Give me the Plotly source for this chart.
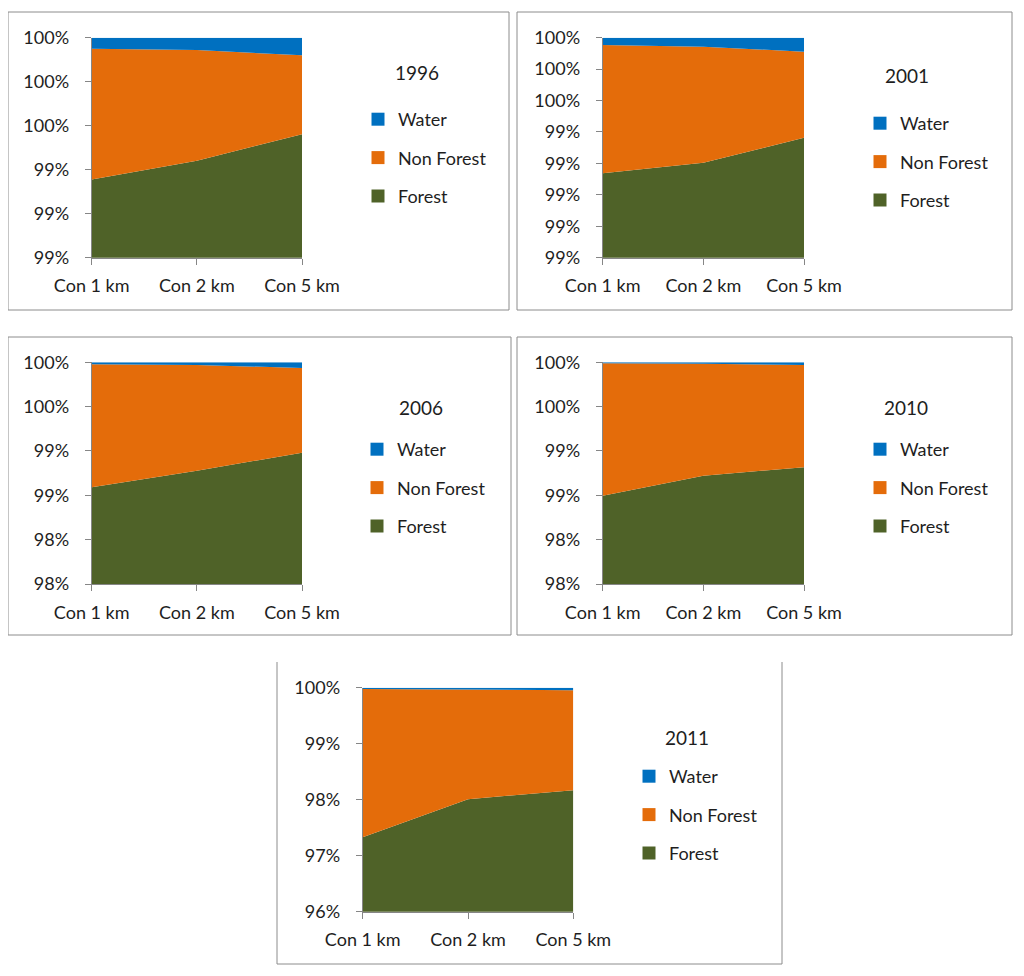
import plotly.graph_objects as go

OFF = 8                # default page body margin
W, H = 1016, 968       # figure size so that the page is 1024 x 976

categories = ["Con 1 km", "Con 2 km", "Con 5 km"]
series_names = ["Forest", "Non Forest", "Water"]
colors = {"Forest": "#4F6228", "Non Forest": "#E46C0A", "Water": "#0070C0"}

# percentages
forest_1996 = [99.356, 99.441, 99.561]
nonforest_1996 = [0.594, 0.503, 0.359]
water_1996 = [0.050, 0.056, 0.080]

forest_2001 = [99.137, 99.204, 99.363]
nonforest_2001 = [0.817, 0.739, 0.548]
water_2001 = [0.046, 0.057, 0.089]

forest_2006 = [98.590, 98.778, 98.980]
nonforest_2006 = [1.387, 1.192, 0.956]
water_2006 = [0.023, 0.030, 0.064]

forest_2010 = [98.496, 98.722, 98.816]
nonforest_2010 = [1.493, 1.263, 1.154]
water_2010 = [0.011, 0.015, 0.030]

forest_2011 = [97.330, 98.010, 98.170]
nonforest_2011 = [2.647, 1.960, 1.783]
water_2011 = [0.023, 0.030, 0.047]

years = ["1996", "2001", "2006", "2010", "2011"]

yticks_1996 = [99.0, 99.2, 99.4, 99.6, 99.8, 100.0]
ylabels_1996 = ["99%", "99%", "99%", "100%", "100%", "100%"]
yticks_2001 = [98.6, 98.8, 99.0, 99.2, 99.4, 99.6, 99.8, 100.0]
ylabels_2001 = ["99%", "99%", "99%", "99%", "99%", "100%", "100%", "100%"]
yticks_2006 = [97.5, 98.0, 98.5, 99.0, 99.5, 100.0]
ylabels_2006 = ["98%", "98%", "99%", "99%", "100%", "100%"]
yticks_2010 = [97.5, 98.0, 98.5, 99.0, 99.5, 100.0]
ylabels_2010 = ["98%", "98%", "99%", "99%", "100%", "100%"]
yticks_2011 = [96.0, 97.0, 98.0, 99.0, 100.0]
ylabels_2011 = ["96%", "97%", "98%", "99%", "100%"]

data = {
    "1996": (forest_1996, nonforest_1996, water_1996, yticks_1996, ylabels_1996),
    "2001": (forest_2001, nonforest_2001, water_2001, yticks_2001, ylabels_2001),
    "2006": (forest_2006, nonforest_2006, water_2006, yticks_2006, ylabels_2006),
    "2010": (forest_2010, nonforest_2010, water_2010, yticks_2010, ylabels_2010),
    "2011": (forest_2011, nonforest_2011, water_2011, yticks_2011, ylabels_2011),
}

# layout geometry in page pixels (from top-left)
panels = {
    "1996": dict(px=(91.7, 302.0), py=(37.7, 257.7), box=(8, 509, 12, 310), title=(417, 73), leg=(398, 117)),
    "2001": dict(px=(602.7, 804.0), py=(37.7, 257.7), box=(517, 1012, 12, 310), title=(907, 75), leg=(900, 121)),
    "2006": dict(px=(91.7, 302.0), py=(362.3, 584.0), box=(8, 511, 337, 635), title=(421, 408), leg=(397, 447)),
    "2010": dict(px=(602.7, 804.0), py=(362.3, 584.0), box=(517, 1012, 337, 635), title=(906, 408), leg=(900, 447)),
    "2011": dict(px=(362.7, 573.3), py=(687.7, 911.7), box=(277, 782, 662, 964), title=(687, 737), leg=(669, 774)),
}


def fx(x):
    return (x - OFF) / W


def fy(y):
    return 1 - (y - OFF) / H


FONT = "Lato"
TXT = "#1e1e1e"
AX = "#868686"
FS = 18

fig = go.Figure()
shapes = []
annotations = []
layout_axes = {}

for i, yr in enumerate(years, start=1):
    forest, nonforest, water, ytv, ytt = data[yr]
    p = panels[yr]
    xa = "x" if i == 1 else f"x{i}"
    ya = "y" if i == 1 else f"y{i}"
    leg = "legend" if i == 1 else f"legend{i}"
    for name, vals in zip(series_names, [forest, nonforest, water]):
        fig.add_trace(go.Scatter(
            x=categories, y=vals, name=name, stackgroup=f"g{i}", mode="none",
            fillcolor=colors[name], showlegend=False, xaxis=xa, yaxis=ya,
            hoverinfo="skip"))
    for name in reversed(series_names):
        fig.add_trace(go.Scatter(
            x=[None], y=[None], name=name, mode="markers",
            marker=dict(symbol="square", size=13, color=colors[name]),
            showlegend=True, legend=leg, legendgroup=f"{yr}_{name}",
            xaxis=xa, yaxis=ya))

    xkey = "xaxis" if i == 1 else f"xaxis{i}"
    ykey = "yaxis" if i == 1 else f"yaxis{i}"
    layout_axes[xkey] = dict(
        domain=[fx(p["px"][0]), fx(p["px"][1])], anchor=ya, type="category", range=[0, 2],
        showline=True, linecolor=AX, linewidth=1, ticks="outside", ticklen=6,
        tickcolor=AX, showgrid=False, zeroline=False, automargin=False,
        tickfont=dict(family=FONT, size=FS, color=TXT), ticklabelstandoff=6,
        fixedrange=True)
    layout_axes[ykey] = dict(
        domain=[fy(p["py"][1]), fy(p["py"][0])], anchor=xa, range=[ytv[0], ytv[-1]],
        tickvals=ytv, ticktext=ytt,
        showline=True, linecolor=AX, linewidth=1, ticks="outside", ticklen=6,
        tickcolor=AX, showgrid=False, zeroline=False, automargin=False,
        tickfont=dict(family=FONT, size=FS, color=TXT), ticklabelstandoff=12,
        fixedrange=True)
    layout_axes[leg] = dict(
        x=fx(p["leg"][0] - 40), y=fy(p["leg"][1] - 16),
        xanchor="left", yanchor="top", bgcolor="rgba(0,0,0,0)",
        font=dict(family=FONT, size=FS, color=TXT),
        tracegroupgap=12, itemsizing="trace", traceorder="grouped")

    bx0, bx1, by0, by1 = p["box"]
    lc = dict(color="#8c8c8c", width=1)
    if yr == "2011":
        for (x0, y0, x1, y1) in [(bx0, by0, bx0, by1), (bx1, by0, bx1, by1), (bx0, by1, bx1, by1)]:
            shapes.append(dict(type="line", xref="paper", yref="paper",
                               x0=fx(x0), x1=fx(x1), y0=fy(y0), y1=fy(y1), line=lc))
    else:
        shapes.append(dict(type="rect", xref="paper", yref="paper",
                           x0=fx(bx0), x1=fx(bx1), y0=fy(by1), y1=fy(by0), line=lc))
    annotations.append(dict(text=yr, xref="paper", yref="paper",
                            x=fx(p["title"][0]), y=fy(p["title"][1]),
                            xanchor="center", yanchor="middle", showarrow=False,
                            font=dict(family=FONT, size=FS + 1, color=TXT)))

fig.update_layout(
    width=W, height=H, margin=dict(l=0, r=0, t=0, b=0, autoexpand=False),
    paper_bgcolor="white", plot_bgcolor="white",
    shapes=shapes, annotations=annotations, **layout_axes)

fig.write_html("out.html")
